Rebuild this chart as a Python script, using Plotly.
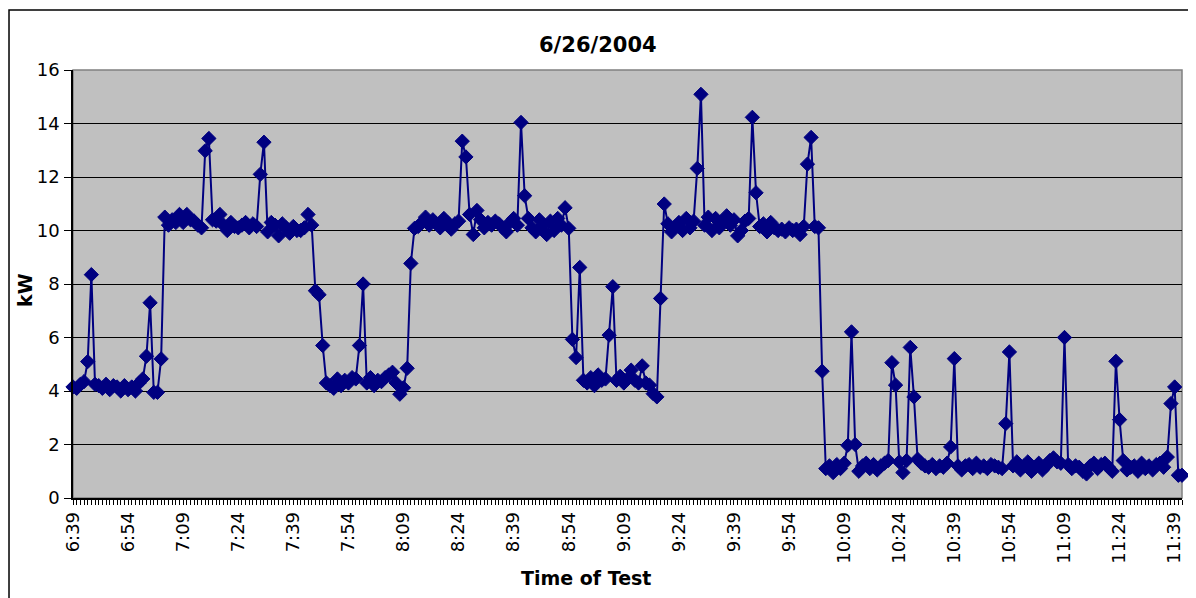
import plotly.graph_objects as go

# readings, one per minute starting 6:39
start_hour, start_min = 6, 39

kw_ramp_up_1 = [4.15, 4.1, 4.25, 4.35, 5.1, 8.35, 4.25, 4.2, 4.1, 4.25,
                4.05, 4.2, 4.15, 4.0, 4.2, 4.05, 4.15, 4.0, 4.3, 4.45,
                5.3, 7.3, 3.95, 3.95, 5.2]
kw_plateau_1 = [10.5, 10.2, 10.4, 10.3, 10.6, 10.3, 10.6, 10.4, 10.35, 10.2,
                10.1, 12.98, 13.44, 10.4, 10.35, 10.6, 10.2, 10.0, 10.3, 10.15,
                10.1, 10.2, 10.3, 10.1, 10.25, 10.15, 12.1, 13.3, 9.95, 10.3,
                10.2, 9.8, 10.25, 10.1, 9.9, 10.15, 10.0, 10.0, 10.1, 10.6,
                10.2]
kw_low_1 = [7.75, 7.6, 5.7, 4.3, 4.2, 4.1, 4.45, 4.2, 4.4, 4.3,
            4.5, 4.45, 5.7, 8.0, 4.3, 4.5, 4.2, 4.4, 4.35, 4.5,
            4.6, 4.7, 4.3, 3.88, 4.12, 4.85, 8.77]
kw_plateau_2 = [10.08, 10.15, 10.3, 10.5, 10.2, 10.4, 10.25, 10.1, 10.45, 10.3,
                10.05, 10.25, 10.35, 13.34, 12.75, 10.6, 9.85, 10.75, 10.4, 10.1,
                10.3, 10.2, 10.35, 10.25, 10.1, 9.95, 10.3, 10.45, 10.2, 14.04,
                11.3, 10.45, 10.1, 9.95, 10.4, 10.2, 9.85, 10.35, 10.0, 10.45,
                10.2, 10.85, 10.08]
kw_low_2 = [5.93, 5.25, 8.62, 4.4, 4.3, 4.5, 4.2, 4.6, 4.4, 4.45,
            6.09, 7.9, 4.4, 4.55, 4.3, 4.45, 4.78, 4.4, 4.3, 4.94,
            4.3, 4.22, 3.9, 3.78, 7.46]
kw_plateau_3 = [10.99, 10.25, 9.95, 10.15, 10.3, 10.0, 10.45, 10.1, 10.35, 12.32,
                15.09, 10.2, 10.5, 10.0, 10.45, 10.1, 10.3, 10.55, 10.2, 10.4,
                9.8, 10.0, 10.35, 10.45, 14.23, 11.41, 10.15, 10.25, 9.95, 10.3,
                10.1, 10.0, 10.05, 9.95, 10.1, 10.0, 10.05, 9.85, 10.15, 12.48,
                13.48, 10.15, 10.1]
kw_tail = [4.74, 1.1, 1.2, 0.95, 1.25, 1.1, 1.3, 1.97, 6.21, 2.0,
           1.0, 1.2, 1.3, 1.1, 1.25, 1.05, 1.2, 1.3, 1.4, 5.06,
           4.22, 1.35, 0.95, 1.4, 5.63, 3.78, 1.45, 1.3, 1.2, 1.15,
           1.25, 1.1, 1.2, 1.15, 1.3, 1.91, 5.21, 1.2, 1.05, 1.2,
           1.25, 1.1, 1.3, 1.15, 1.2, 1.1, 1.25, 1.2, 1.15, 1.1,
           2.78, 5.46, 1.2, 1.35, 1.05, 1.2, 1.35, 1.0, 1.15, 1.3,
           1.05, 1.2, 1.4, 1.5, 1.35, 1.3, 6.0, 1.25, 1.1, 1.2,
           1.15, 1.0, 0.9, 1.2, 1.3, 1.1, 1.25, 1.3, 1.15, 1.0,
           5.11, 2.93, 1.4, 1.05, 1.15, 1.2, 1.0, 1.3, 1.1, 1.2,
           1.05, 1.25, 1.3, 1.15, 1.53, 3.53, 4.15, 0.85, 0.85]

kw = kw_ramp_up_1 + kw_plateau_1 + kw_low_1 + kw_plateau_2 + kw_low_2 + kw_plateau_3 + kw_tail

times = []
for i in range(len(kw)):
    m = start_hour * 60 + start_min + i
    times.append(f"{m // 60}:{m % 60:02d}")

x_idx = list(range(len(kw)))
label_step = 15

FONT = "DejaVu Sans, Arial, sans-serif"
NAVY = "#000080"

fig = go.Figure()
fig.add_trace(go.Scatter(
    x=x_idx,
    y=kw,
    mode="lines+markers",
    line=dict(color=NAVY, width=2),
    marker=dict(symbol="diamond", size=11, color=NAVY, line=dict(color=NAVY, width=1)),
    text=times,
    hovertemplate="%{text}<br>%{y} kW<extra></extra>",
    showlegend=False,
    cliponaxis=False,
))

# the page body adds an 8px offset, so the figure is sized 8px smaller
fig.update_layout(
    width=1188,
    height=590,
    margin=dict(l=65, r=14, t=62, b=100),
    paper_bgcolor="white",
    plot_bgcolor="#C0C0C0",
    font=dict(family=FONT, color="black"),
    shapes=[
        # outer chart border
        dict(type="rect", xref="paper", yref="paper",
             x0=-0.0577, x1=1.0063, y0=-0.25, y1=1.140,
             line=dict(color="black", width=1.5), fillcolor="rgba(0,0,0,0)", layer="below"),
        # plot area frame (top/right)
        dict(type="rect", xref="paper", yref="paper", x0=0, x1=1, y0=0, y1=1,
             line=dict(color="#808080", width=1.5), fillcolor="rgba(0,0,0,0)", layer="below"),
    ],
    annotations=[
        dict(text="<b>6/26/2004</b>", xref="paper", yref="paper", x=0.473, y=1.058,
             xanchor="center", yanchor="middle",
             showarrow=False, font=dict(size=21, family=FONT)),
        dict(text="<b>Time of Test</b>", xref="paper", yref="paper", x=0.4626, y=-0.187,
             xanchor="center", yanchor="middle",
             showarrow=False, font=dict(size=19, family=FONT)),
        dict(text="<b>kW</b>", xref="paper", yref="paper", x=-0.0433, y=0.486,
             xanchor="center", yanchor="middle",
             showarrow=False, textangle=-90, font=dict(size=19, family=FONT)),
    ],
)

fig.update_xaxes(
    range=[0, len(kw) - 1],
    tickmode="array",
    tickvals=x_idx[::label_step],
    ticktext=times[::label_step],
    tickangle=-90,
    tickfont=dict(size=18, family=FONT),
    ticks="outside",
    ticklen=5,
    tickcolor="black",
    minor=dict(ticks="outside", dtick=1, ticklen=5, tickcolor="black", showgrid=False),
    showline=True,
    linecolor="black",
    linewidth=1.5,
    showgrid=False,
    zeroline=False,
)
fig.update_yaxes(
    range=[0, 16],
    dtick=2,
    tickfont=dict(size=18, family=FONT),
    ticks="outside",
    ticklen=7,
    ticklabelstandoff=1,
    tickcolor="black",
    showline=True,
    linecolor="black",
    linewidth=1.5,
    showgrid=True,
    gridcolor="black",
    gridwidth=1,
    zeroline=False,
)

fig.write_html("out.html")
